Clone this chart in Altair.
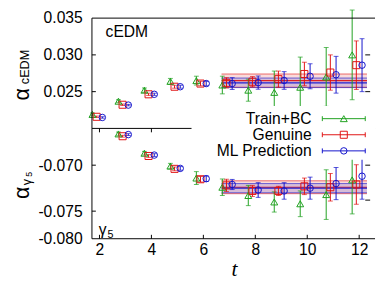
import altair as alt
import pandas as pd

# ---------------- data ----------------
series_names = ["Train+BC", "Genuine", "ML Prediction"]
series_colors = ["#1ea01e", "#e01010", "#1010cc"]
series_shapes = ["triangle-up", "square", "circle"]
series_sizes = [50, 52, 44]
series_dx = [-0.27, -0.11, 0.11]

t_cedm = [2, 3, 4, 5, 6, 7, 8, 9, 10, 11, 12]
cedm_train = [0.0219, 0.0237, 0.0252, 0.0264, 0.0265, 0.0259, 0.0252, 0.0249, 0.0256, 0.0270, 0.0300]
cedm_train_err = [0.0002, 0.0002, 0.0003, 0.0004, 0.0006, 0.0012, 0.0015, 0.0029, 0.0041, 0.0040, 0.0061]
cedm_gen = [0.02158, 0.02322, 0.02464, 0.02567, 0.0261, 0.0262, 0.02635, 0.0267, 0.0274, 0.0276, 0.0286]
cedm_gen_err = [0.0001, 0.0001, 0.00015, 0.0002, 0.0003, 0.0007, 0.0007, 0.0011, 0.0016, 0.0024, 0.0033]
cedm_ml = [0.02149, 0.02317, 0.02464, 0.02567, 0.0261, 0.0261, 0.02623, 0.02652, 0.02709, 0.0273, 0.0286]
cedm_ml_err = [0.0001, 0.0001, 0.00015, 0.0002, 0.0003, 0.0008, 0.0009, 0.0012, 0.0017, 0.0025, 0.0036]

t_g5 = [3, 4, 5, 6, 7, 8, 9, 10, 11, 12]
g5_train = [-0.0666, -0.0687, -0.0701, -0.0714, -0.0724, -0.0733, -0.0740, -0.0742, -0.0732, -0.0716]
g5_train_err = [0.0002, 0.0002, 0.0003, 0.0007, 0.0009, 0.0011, 0.0011, 0.0014, 0.0027, 0.0037]
g5_gen = [-0.06685, -0.0690, -0.0704, -0.07153, -0.0722, -0.0728, -0.0728, -0.0723, -0.0724, -0.0721]
g5_gen_err = [0.0001, 0.00015, 0.0002, 0.0003, 0.00067, 0.0006, 0.0005, 0.0009, 0.0015, 0.00215]
g5_ml = [-0.06667, -0.0689, -0.07035, -0.07147, -0.0721, -0.0727, -0.0728, -0.0725, -0.0720, -0.0712]
g5_ml_err = [0.0001, 0.00015, 0.0002, 0.0003, 0.00055, 0.0008, 0.0009, 0.0012, 0.00175, 0.0025]

fit_range = [6.7, 12.3]
fit_names = ["Genuine", "ML Prediction"]
cedm_fit = [0.0265, 0.0262]
cedm_fit_err = [0.0009, 0.00065]
g5_fit = [-0.0724, -0.0725]
g5_fit_err = [0.0007, 0.0005]

x_domain = [1.71, 12.61]
x_ticks = [2, 4, 6, 8, 10, 12]
cedm_domain = [0.020, 0.035]
cedm_ticks = [0.025, 0.030, 0.035]
cedm_right_ticks = [0.025, 0.030]
g5_domain = [-0.078, -0.066]
g5_ticks = [-0.070, -0.075, -0.078]
g5_tick_labels = ["-0.070", "-0.075", "-0.080"]
g5_right_ticks = [-0.070, -0.0738]

# ---------------- layout ----------------
W = 290
H1 = 113
H2 = 113
FONT = "Liberation Sans"
ALPHA_X = -64.5
color_scale = alt.Scale(domain=series_names, range=series_colors)
color_enc = alt.Color("series:N", scale=color_scale, legend=None)
xscale = alt.Scale(domain=x_domain, nice=False, zero=False)
one = pd.DataFrame({"a": [0]})


def long_df(t, vals_list, errs_list):
    rows = []
    for name, dx, vals, errs in zip(series_names, series_dx, vals_list, errs_list):
        for ti, v, e in zip(t, vals, errs):
            rows.append({"series": name, "tx": ti + dx, "v": v, "lo": v - e, "hi": v + e})
    return pd.DataFrame(rows)


def fit_df(centers, errs):
    return pd.DataFrame({
        "series": fit_names,
        "x0": [fit_range[0]] * len(fit_names),
        "x1": [fit_range[1]] * len(fit_names),
        "c": centers,
        "lo": [c - e for c, e in zip(centers, errs)],
        "hi": [c + e for c, e in zip(centers, errs)],
    })


def data_layers(df, fdf, X, Y):
    layers = []
    layers.append(alt.Chart(fdf).mark_rect(opacity=0.15).encode(
        x=X("x0"), x2="x1", y=Y("lo"), y2="hi", color=color_enc))
    for f, op, sw in [("lo", 0.6, 1), ("hi", 0.6, 1), ("c", 0.9, 1.2)]:
        layers.append(alt.Chart(fdf).mark_rule(opacity=op, strokeWidth=sw).encode(
            x=X("x0"), x2="x1", y=Y(f), color=color_enc))
    layers.append(alt.Chart(df).mark_rule(strokeWidth=1).encode(
        x=X("tx"), y=Y("lo"), y2="hi", color=color_enc))
    for f in ["lo", "hi"]:
        layers.append(alt.Chart(df).mark_tick(orient="horizontal", size=5, thickness=1).encode(
            x=X("tx"), y=Y(f), color=color_enc))
    for name, col, shp, sz in zip(series_names, series_colors, series_shapes, series_sizes):
        layers.append(alt.Chart(df[df.series == name]).mark_point(
            shape=shp, size=sz, color=col, filled=False, strokeWidth=1, opacity=1).encode(
            x=X("tx"), y=Y("v")))
    return layers


def ytitle_text(txt, size, x, y):
    return alt.Chart(one).mark_text(font=FONT, fontSize=size, angle=270, align="center",
                                    baseline="alphabetic", color="black").encode(
        x=alt.value(x), y=alt.value(y), text=alt.value(txt))


# ---------------- top panel ----------------
top_yaxis = alt.Axis(values=cedm_ticks, format=".3f", ticks=False, tickSize=0, domain=False,
                     grid=False, labelPadding=10, labelFlush=False)
top_yscale = alt.Scale(domain=cedm_domain, nice=False, zero=False)


def XT(f):
    return alt.X(f, type="quantitative", scale=xscale, axis=None, title=None)


def YT(f):
    return alt.Y(f, type="quantitative", scale=top_yscale, axis=top_yaxis, title=None)


df_top = long_df(t_cedm, [cedm_train, cedm_gen, cedm_ml], [cedm_train_err, cedm_gen_err, cedm_ml_err])
top_layers = data_layers(df_top, fit_df(cedm_fit, cedm_fit_err), XT, YT)
top_layers += [
    alt.Chart(one).mark_rule(color="black").encode(x=alt.value(0), y=alt.value(0), y2=alt.value(H1)),
    alt.Chart(one).mark_rule(color="black").encode(x=alt.value(0), x2=alt.value(W), y=alt.value(0)),
    alt.Chart(pd.DataFrame({"v": cedm_ticks[:2]})).mark_rule(color="black").encode(
        y=YT("v"), x=alt.value(0), x2=alt.value(4)),
    alt.Chart(pd.DataFrame({"v": cedm_right_ticks})).mark_rule(color="black").encode(
        y=YT("v"), x=alt.value(W - 10), x2=alt.value(W - 5)),
    alt.Chart(one).mark_text(font=FONT, fontSize=16, align="left", baseline="alphabetic", color="black").encode(
        x=alt.value(14), y=alt.value(19), text=alt.value("cEDM")),
    ytitle_text("α", 22, ALPHA_X, 78),
    ytitle_text("cEDM", 13, ALPHA_X + 0.5, 50),
]
top = alt.layer(*top_layers).properties(width=W, height=H1)

# ---------------- bottom panel ----------------
label_expr = " : ".join(
    f"abs(datum.value - ({v})) < 1e-6 ? '{lab}'" for v, lab in zip(g5_ticks, g5_tick_labels)) + " : ''"
bot_yaxis = alt.Axis(values=g5_ticks, labelExpr=label_expr, ticks=False, tickSize=0, domain=False,
                     grid=False, labelPadding=10, labelFlush=False)
bot_yscale = alt.Scale(domain=g5_domain, nice=False, zero=False)
bot_xaxis = alt.Axis(values=x_ticks, format="d", ticks=False, tickSize=0, domain=False, grid=False,
                     labelPadding=3, labelFlush=False)


def XB(f):
    return alt.X(f, type="quantitative", scale=xscale, axis=bot_xaxis, title=None)


def YB(f):
    return alt.Y(f, type="quantitative", scale=bot_yscale, axis=bot_yaxis, title=None)


df_bot = long_df(t_g5, [g5_train, g5_gen, g5_ml], [g5_train_err, g5_gen_err, g5_ml_err])
bot_layers = data_layers(df_bot, fit_df(g5_fit, g5_fit_err), XB, YB)
bot_layers += [
    alt.Chart(one).mark_rule(color="black").encode(x=alt.value(0), y=alt.value(0), y2=alt.value(H2)),
    alt.Chart(one).mark_rule(color="black").encode(x=alt.value(0), x2=alt.value(W), y=alt.value(0)),
    alt.Chart(one).mark_rule(color="black").encode(x=alt.value(0), x2=alt.value(W), y=alt.value(H2)),
    alt.Chart(pd.DataFrame({"tx": x_ticks})).mark_rule(color="black").encode(
        x=XB("tx"), y=alt.value(H2 - 4), y2=alt.value(H2)),
    alt.Chart(pd.DataFrame({"tx": x_ticks})).mark_rule(color="black").encode(
        x=XB("tx"), y=alt.value(0), y2=alt.value(4)),
    alt.Chart(pd.DataFrame({"v": g5_ticks[:2]})).mark_rule(color="black").encode(
        y=YB("v"), x=alt.value(0), x2=alt.value(4)),
    alt.Chart(pd.DataFrame({"v": g5_right_ticks})).mark_rule(color="black").encode(
        y=YB("v"), x=alt.value(W - 10), x2=alt.value(W - 5)),
    alt.Chart(one).mark_text(font=FONT, fontSize=16, align="left", baseline="alphabetic", color="black").encode(
        x=alt.value(7), y=alt.value(H2 - 4), text=alt.value("γ")),
    alt.Chart(one).mark_text(font=FONT, fontSize=11, align="left", baseline="alphabetic", color="black").encode(
        x=alt.value(16), y=alt.value(H2 - 0.5), text=alt.value("5")),
    alt.Chart(one).mark_text(font="Liberation Serif", fontStyle="italic", fontSize=22, align="center",
                             baseline="alphabetic", color="black").encode(
        x=alt.value(146), y=alt.value(H2 + 38), text=alt.value("t")),
    ytitle_text("α", 22, ALPHA_X, 66),
    ytitle_text("γ", 13, ALPHA_X + 2, 55),
    ytitle_text("5", 9, ALPHA_X + 3, 47),
]

# legend drawn over the panel boundary
leg_rows = [-10, 6.5, 23]
bot_layers.append(alt.Chart(one).mark_rect(color="white", opacity=1).encode(
    x=alt.value(102), x2=alt.value(W), y=alt.value(-23), y2=alt.value(32)))
for name, col, shp, sz, ly in zip(series_names, series_colors, series_shapes, series_sizes, leg_rows):
    d1 = pd.DataFrame({"series": [name]})
    bot_layers += [
        alt.Chart(d1).mark_text(font=FONT, fontSize=16, align="right", baseline="middle", color="black").encode(
            x=alt.value(225), y=alt.value(ly), text=alt.value(name)),
        alt.Chart(d1).mark_rule(color=col, strokeWidth=1).encode(
            x=alt.value(236), x2=alt.value(280), y=alt.value(ly)),
        alt.Chart(d1).mark_rule(color=col, strokeWidth=1).encode(
            x=alt.value(236), y=alt.value(ly - 2.5), y2=alt.value(ly + 2.5)),
        alt.Chart(d1).mark_rule(color=col, strokeWidth=1).encode(
            x=alt.value(280), y=alt.value(ly - 2.5), y2=alt.value(ly + 2.5)),
        alt.Chart(d1).mark_point(shape=shp, size=sz, color=col, filled=False, strokeWidth=1, opacity=1).encode(
            x=alt.value(258), y=alt.value(ly)),
    ]
bottom = alt.layer(*bot_layers).properties(width=W, height=H2)

chart = alt.vconcat(top, bottom, spacing=0, bounds="flush").properties(
    padding={"left": 3, "top": -2, "right": 0, "bottom": 0}
).configure_view(stroke=None).configure_axis(
    labelFont=FONT, labelFontSize=16, labelColor="black"
)

chart.save("out.html", embed_options={"renderer": "svg", "actions": False})
